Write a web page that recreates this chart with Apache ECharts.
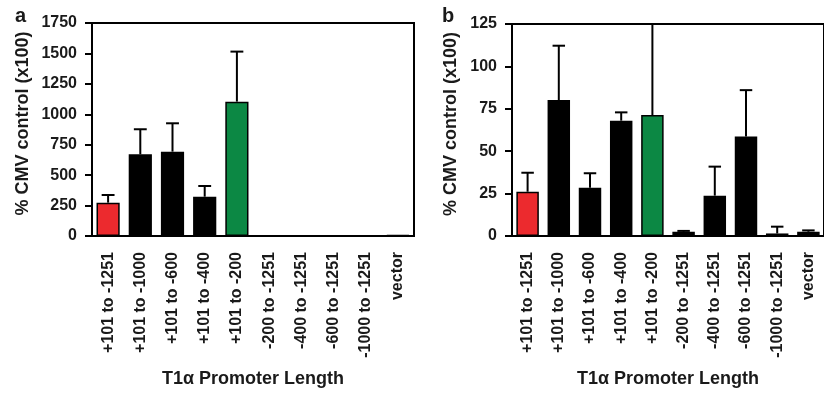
<!DOCTYPE html>
<html>
<head>
<meta charset="utf-8">
<script src="https://cdn.jsdelivr.net/npm/echarts@6/dist/echarts.min.js"></script>
<style>
  html, body { margin: 0; padding: 0; background: #fff; }
  #chart { width: 824px; height: 395px; }
</style>
</head>
<body>
<div id="chart"></div>
<script>
const categories = ['+101 to -1251', '+101 to -1000', '+101 to -600', '+101 to -400', '+101 to -200',
  '-200 to -1251', '-400 to -1251', '-600 to -1251', '-1000 to -1251', 'vector'];

// panel a: mean and upper error (x100 % CMV control)
const meanA = [274, 671, 693, 323, 1104, 0, 0, 0, 0, 8];
const errA = [63, 206, 233, 88, 411, 0, 0, 0, 0, 0];
const ticksA = [0, 250, 500, 750, 1000, 1250, 1500, 1750];

// panel b
const meanB = [26.1, 80.2, 28.5, 68, 71.3, 2.5, 23.8, 58.6, 1.5, 2.5];
const errB = [11.2, 32, 8.5, 4.9, 70, 0.5, 17.1, 27.4, 4, 0.8];
const ticksB = [0, 25, 50, 75, 100, 125];

const FONT = 'Liberation Sans, Arial, Helvetica, sans-serif';
const RED = '#ec2a2e';
const GREEN = '#0c8844';
const INK = '#1a1a1a';

const chart = echarts.init(document.getElementById('chart'));

// color per bar: first construct red, +101 to -200 green, the rest black
const colorOf = (i) => i === 0 ? RED : (i === 4 ? GREEN : '#000');

const errorSeries = (gridIdx, means, errs) => ({
  type: 'custom',
  xAxisIndex: gridIdx,
  yAxisIndex: gridIdx,
  clip: true,
  z: 3,
  data: means.map((m, i) => [i, m, errs[i]]),
  renderItem: function (params, api) {
    const i = api.value(0);
    const m = api.value(1);
    const e = api.value(2);
    if (!e) return;
    const base = api.coord([i, m]);
    const top = api.coord([i, m + e]);
    const half = api.size([1, 0])[0] * 0.2;
    const style = { stroke: '#000', lineWidth: 2 };
    return {
      type: 'group',
      children: [
        { type: 'line', shape: { x1: base[0], y1: base[1], x2: top[0], y2: top[1] }, style: style },
        { type: 'line', shape: { x1: top[0] - half, y1: top[1], x2: top[0] + half, y2: top[1] }, style: style }
      ]
    };
  }
});

const barSeries = (gridIdx, means) => ({
  type: 'bar',
  xAxisIndex: gridIdx,
  yAxisIndex: gridIdx,
  barWidth: '72%',
  data: means.map((m, i) => ({
    value: m,
    itemStyle: { color: colorOf(i), borderColor: '#000', borderWidth: 1.5 }
  }))
});

const xAxisOf = (gridIdx) => ({
  type: 'category',
  gridIndex: gridIdx,
  data: categories,
  name: 'T1\u03b1 Promoter Length',
  nameLocation: 'middle',
  nameGap: 134,
  nameTextStyle: { fontFamily: FONT, fontWeight: 'bold', fontSize: 18, color: INK },
  axisLine: { lineStyle: { color: '#000', width: 2 } },
  axisTick: { alignWithLabel: true, length: 7, lineStyle: { color: '#000', width: 2 } },
  axisLabel: { rotate: 90, margin: 16, interval: 0, fontFamily: FONT, fontWeight: 'bold', fontSize: 16, color: INK },
  splitLine: { show: false }
});

const yAxisOf = (gridIdx, ticks, nameGap) => ({
  type: 'value',
  gridIndex: gridIdx,
  min: ticks[0],
  max: ticks[ticks.length - 1],
  interval: ticks[1] - ticks[0],
  name: '% CMV control (x100)',
  nameLocation: 'middle',
  nameGap: nameGap,
  nameTextStyle: { fontFamily: FONT, fontWeight: 'bold', fontSize: 18, color: INK, padding: [0, 0, 0, 12] },
  axisLine: { show: true, lineStyle: { color: '#000', width: 2 } },
  axisTick: { show: true, length: 7, lineStyle: { color: '#000', width: 2 } },
  axisLabel: { margin: 15, fontFamily: FONT, fontWeight: 'bold', fontSize: 16, color: INK, formatter: (v) => String(v) },
  splitLine: { show: false }
});

const option = {
  animation: false,
  backgroundColor: '#fff',
  title: [
    { text: 'a', left: 10, top: 1, textStyle: { fontFamily: FONT, fontWeight: 'bold', fontSize: 20, color: INK } },
    { text: 'b', left: 437, top: 1, textStyle: { fontFamily: FONT, fontWeight: 'bold', fontSize: 20, color: INK } }
  ],
  grid: [
    { left: 92, top: 23, width: 322, height: 213, show: true, borderColor: '#000', borderWidth: 2, backgroundColor: 'transparent' },
    { left: 512, top: 24, width: 318, height: 212, show: true, borderColor: '#000', borderWidth: 2, backgroundColor: 'transparent' }
  ],
  xAxis: [xAxisOf(0), xAxisOf(1)],
  yAxis: [yAxisOf(0, ticksA, 60), yAxisOf(1, ticksB, 52)],
  series: [
    barSeries(0, meanA),
    errorSeries(0, meanA, errA),
    barSeries(1, meanB),
    errorSeries(1, meanB, errB)
  ]
};

chart.setOption(option);
</script>
</body>
</html>
